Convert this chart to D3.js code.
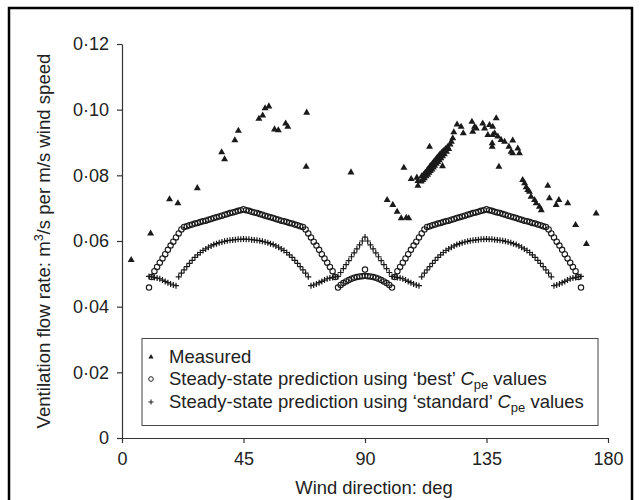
<!DOCTYPE html>
<html>
<head>
<meta charset="utf-8">
<script src="https://cdn.jsdelivr.net/npm/d3@7"></script>
<style>
body { margin: 0; background: #fff; }
text { font-family: "Liberation Sans", Arial, sans-serif; fill: #222; white-space: pre; }
.axis path, .axis line { stroke: #333; stroke-width: 1.2; }
.axis text { font-size: 18px; fill: #222; }
</style>
</head>
<body>
<svg id="chart"></svg>
<script>
// wind directions of the two predicted series, one per degree
const angles = d3.range(10, 171);

const bestValues = [
  0.0458, 0.0490, 0.0508, 0.0521, 0.0534, 0.0547, 0.0560, 0.0573, 0.0586, 0.0598, 0.0611,
  0.0623, 0.0635, 0.0643, 0.0645, 0.0648, 0.0650, 0.0653, 0.0655, 0.0658, 0.0660,
  0.0662, 0.0665, 0.0667, 0.0670, 0.0672, 0.0675, 0.0677, 0.0680, 0.0682, 0.0685,
  0.0687, 0.0689, 0.0692, 0.0694, 0.0697, 0.0694, 0.0692, 0.0689, 0.0687, 0.0685,
  0.0682, 0.0680, 0.0677, 0.0675, 0.0672, 0.0670, 0.0667, 0.0665, 0.0662, 0.0660,
  0.0658, 0.0655, 0.0653, 0.0650, 0.0648, 0.0645, 0.0643, 0.0635, 0.0623, 0.0611,
  0.0598, 0.0586, 0.0573, 0.0560, 0.0547, 0.0534, 0.0521, 0.0508, 0.0490, 0.0458,
  0.0466, 0.0472, 0.0477, 0.0481, 0.0485, 0.0488, 0.0490, 0.0492, 0.0493, 0.0494,
  0.0493, 0.0492, 0.0490, 0.0488, 0.0485, 0.0481, 0.0477, 0.0472, 0.0466, 0.0458,
  0.0490, 0.0508, 0.0521, 0.0534, 0.0547, 0.0560, 0.0573, 0.0586, 0.0598, 0.0611,
  0.0623, 0.0635, 0.0643, 0.0645, 0.0648, 0.0650, 0.0653, 0.0655, 0.0658, 0.0660,
  0.0662, 0.0665, 0.0667, 0.0670, 0.0672, 0.0675, 0.0677, 0.0680, 0.0682, 0.0685,
  0.0687, 0.0689, 0.0692, 0.0694, 0.0697, 0.0694, 0.0692, 0.0689, 0.0687, 0.0685,
  0.0682, 0.0680, 0.0677, 0.0675, 0.0672, 0.0670, 0.0667, 0.0665, 0.0662, 0.0660,
  0.0658, 0.0655, 0.0653, 0.0650, 0.0648, 0.0645, 0.0643, 0.0635, 0.0623, 0.0611,
  0.0598, 0.0586, 0.0573, 0.0560, 0.0547, 0.0534, 0.0521, 0.0508, 0.0490, 0.0458
];
// the lone 'best' circle sitting above the middle arc
const bestExtra = [[90, 0.0513]];

const standardValues = [
  0.0492, 0.0491, 0.0489, 0.0487, 0.0485, 0.0481, 0.0477, 0.0473, 0.0469, 0.0466, 0.0464,
  0.0491, 0.0502, 0.0512, 0.0522, 0.0532, 0.0541, 0.0550, 0.0558, 0.0565, 0.0571,
  0.0576, 0.0581, 0.0585, 0.0589, 0.0592, 0.0595, 0.0597, 0.0599, 0.0601, 0.0602,
  0.0603, 0.0604, 0.0605, 0.0605, 0.0606, 0.0605, 0.0605, 0.0604, 0.0603, 0.0602,
  0.0601, 0.0599, 0.0597, 0.0595, 0.0592, 0.0589, 0.0585, 0.0581, 0.0576, 0.0571,
  0.0565, 0.0558, 0.0550, 0.0541, 0.0532, 0.0522, 0.0512, 0.0502, 0.0491, 0.0464,
  0.0466, 0.0469, 0.0473, 0.0477, 0.0481, 0.0485, 0.0487, 0.0489, 0.0491, 0.0492,
  0.0504, 0.0516, 0.0528, 0.0540, 0.0552, 0.0564, 0.0576, 0.0588, 0.0600, 0.0612,
  0.0600, 0.0588, 0.0576, 0.0564, 0.0552, 0.0540, 0.0528, 0.0516, 0.0504, 0.0492,
  0.0491, 0.0489, 0.0487, 0.0485, 0.0481, 0.0477, 0.0473, 0.0469, 0.0466, 0.0464,
  0.0491, 0.0502, 0.0512, 0.0522, 0.0532, 0.0541, 0.0550, 0.0558, 0.0565, 0.0571,
  0.0576, 0.0581, 0.0585, 0.0589, 0.0592, 0.0595, 0.0597, 0.0599, 0.0601, 0.0602,
  0.0603, 0.0604, 0.0605, 0.0605, 0.0606, 0.0605, 0.0605, 0.0604, 0.0603, 0.0602,
  0.0601, 0.0599, 0.0597, 0.0595, 0.0592, 0.0589, 0.0585, 0.0581, 0.0576, 0.0571,
  0.0565, 0.0558, 0.0550, 0.0541, 0.0532, 0.0522, 0.0512, 0.0502, 0.0491, 0.0464,
  0.0466, 0.0469, 0.0473, 0.0477, 0.0481, 0.0485, 0.0487, 0.0489, 0.0491, 0.0492
];

// measured [wind direction, flow rate]
const measured = [
  [3.4, 0.0542], [10.6, 0.0623], [17.6, 0.0727], [20.7, 0.0715], [27.9, 0.0761],
  [36.9, 0.0870], [38.0, 0.0849], [41.8, 0.0907], [43.1, 0.0936], [50.7, 0.0972],
  [52.1, 0.0982], [53.0, 0.1004], [54.4, 0.1010], [56.5, 0.0940], [57.9, 0.0937],
  [60.6, 0.0958], [61.4, 0.0948], [68.4, 0.0991], [68.2, 0.0826], [84.8, 0.0809],
  [98.2, 0.0725], [100.3, 0.0710], [101.9, 0.0689], [103.4, 0.0669], [105.3, 0.0671],
  [106.2, 0.0669], [104.4, 0.0823], [107.1, 0.0789], [109.2, 0.0793], [109.6, 0.0783],
  [109.6, 0.0768], [113.9, 0.0887], [118.7, 0.0828],
  [110.8, 0.0781], [111.0, 0.0797], [111.4, 0.0786], [111.7, 0.0802], [112.0, 0.0791],
  [112.3, 0.0808], [112.6, 0.0797], [112.9, 0.0813], [113.2, 0.0802], [113.4, 0.0819],
  [113.7, 0.0808], [114.0, 0.0826], [114.2, 0.0813], [114.5, 0.0831], [114.8, 0.0818],
  [115.0, 0.0836], [115.3, 0.0824], [115.6, 0.0842], [115.8, 0.0829], [116.1, 0.0847],
  [116.4, 0.0835], [116.6, 0.0852], [116.9, 0.0841], [117.2, 0.0858], [117.5, 0.0846],
  [117.8, 0.0864], [118.1, 0.0852], [118.4, 0.0869], [118.7, 0.0858], [119.0, 0.0874],
  [119.4, 0.0864], [119.8, 0.0880], [120.2, 0.0872], [120.6, 0.0886], [121.0, 0.0880],
  [121.5, 0.0894], [122.0, 0.0902], [122.5, 0.0913], [122.9, 0.0931], [115.9, 0.0838],
  [117.1, 0.0850],
  [124.1, 0.0955], [125.6, 0.0948], [126.4, 0.0928], [129.6, 0.0963], [129.9, 0.0933],
  [130.6, 0.0948], [131.2, 0.0943], [133.6, 0.0958], [134.3, 0.0943], [136.1, 0.0953],
  [137.3, 0.0948], [135.5, 0.0923], [137.3, 0.0923], [138.0, 0.0928], [139.2, 0.0918],
  [140.4, 0.0908], [141.7, 0.0902], [137.1, 0.0898], [137.1, 0.0887], [138.6, 0.0974],
  [144.7, 0.0906], [143.3, 0.0887], [144.1, 0.0872], [144.7, 0.0867], [146.6, 0.0882],
  [147.2, 0.0867], [139.6, 0.0826],
  [148.4, 0.0786], [149.1, 0.0776], [149.7, 0.0764], [150.3, 0.0755], [150.9, 0.0750],
  [151.5, 0.0735], [152.8, 0.0725], [153.4, 0.0715], [154.6, 0.0704], [155.3, 0.0694],
  [157.7, 0.0768], [158.3, 0.0730], [160.8, 0.0710], [161.8, 0.0725], [165.1, 0.0715],
  [168.0, 0.0649], [175.6, 0.0684], [172.0, 0.0591]
];

const xTicks = [0, 45, 90, 135, 180];
const yTicks = [0, 0.02, 0.04, 0.06, 0.08, 0.10, 0.12];

const width = 641, height = 500;

const svg = d3.select("#chart")
  .attr("width", width)
  .attr("height", height);

// outer frame (bottom edge runs off the picture)
svg.append("rect")
  .attr("x", 9).attr("y", 8)
  .attr("width", 623).attr("height", 530)
  .attr("fill", "none")
  .attr("stroke", "#000")
  .attr("stroke-width", 2.5);

const x = d3.scaleLinear().domain([0, 180]).range([122, 608]);
const y = d3.scaleLinear().domain([0, 0.12]).range([438, 44]);

const fmtY = d => d === 0 ? "0" : d3.format(".2f")(d).replace(".", "\u00b7");

svg.append("g")
  .attr("class", "axis")
  .attr("transform", "translate(0," + y(0) + ")")
  .call(d3.axisBottom(x).tickValues(xTicks).tickSize(5).tickSizeOuter(0).tickPadding(9));

svg.append("g")
  .attr("class", "axis")
  .attr("transform", "translate(" + x(0) + ",0)")
  .call(d3.axisLeft(y).tickValues(yTicks).tickFormat(fmtY).tickSize(5).tickSizeOuter(0).tickPadding(8));

// axis titles
svg.append("text")
  .attr("x", 374)
  .attr("y", 494)
  .attr("text-anchor", "middle")
  .attr("font-size", 18.4)
  .text("Wind direction: deg");

const yTitle = svg.append("text")
  .attr("transform", "translate(50,241) rotate(-90)")
  .attr("text-anchor", "middle")
  .attr("font-size", 18.6);
yTitle.append("tspan").text("Ventilation flow rate: m");
yTitle.append("tspan").attr("font-size", 12.5).attr("dy", -7).text("3");
yTitle.append("tspan").attr("dy", 7).text("/s per m/s wind speed");

// marker shapes
const triangle = d3.symbol(d3.symbolTriangle, 21);
const triangleSmall = d3.symbol(d3.symbolTriangle, 12);
const plusPath = s => "M" + (-s) + ",0H" + s + "M0," + (-s) + "V" + s;

const standardPts = angles.map((a, i) => [a, standardValues[i]]);
const bestPts = angles.map((a, i) => [a, bestValues[i]]).concat(bestExtra);

svg.append("g").selectAll("path")
  .data(standardPts)
  .enter().append("path")
  .attr("transform", d => "translate(" + x(d[0]) + "," + y(d[1]) + ")")
  .attr("d", plusPath(3))
  .attr("stroke", "#1a1a1a")
  .attr("stroke-width", 1.2)
  .attr("fill", "none");

svg.append("g").selectAll("circle")
  .data(bestPts)
  .enter().append("circle")
  .attr("cx", d => x(d[0]))
  .attr("cy", d => y(d[1]))
  .attr("r", 2.7)
  .attr("fill", "none")
  .attr("stroke", "#1a1a1a")
  .attr("stroke-width", 1.1);

svg.append("g").selectAll("path")
  .data(measured)
  .enter().append("path")
  .attr("transform", d => "translate(" + x(d[0]) + "," + y(d[1]) + ")")
  .attr("d", triangle)
  .attr("fill", "#1a1a1a");

// legend
const legend = svg.append("g");
legend.append("rect")
  .attr("x", 142).attr("y", 338.5)
  .attr("width", 456).attr("height", 87)
  .attr("fill", "#fff")
  .attr("stroke", "#444")
  .attr("stroke-width", 1);

const legendText = (yPos, label) => {
  const t = legend.append("text")
    .attr("x", 169).attr("y", yPos + 6.5)
    .attr("font-size", 18.5);
  t.append("tspan").text(label);
  return t;
};

legend.append("path")
  .attr("transform", "translate(151,357)")
  .attr("d", triangleSmall)
  .attr("fill", "#1a1a1a");
legendText(356.5, "Measured");

legend.append("circle")
  .attr("cx", 151).attr("cy", 379).attr("r", 2.3)
  .attr("fill", "none").attr("stroke", "#222").attr("stroke-width", 1);
const t2 = legendText(378.5, "Steady-state prediction using \u2018best\u2019 ");
t2.append("tspan").attr("font-style", "italic").text("C");
t2.append("tspan").attr("font-size", 13).attr("dy", 3.5).text("pe");
t2.append("tspan").attr("dy", -3.5).text(" values");

legend.append("path")
  .attr("transform", "translate(151,402)")
  .attr("d", plusPath(2.6))
  .attr("stroke", "#222").attr("stroke-width", 1.1);
const t3 = legendText(401.5, "Steady-state prediction using \u2018standard\u2019 ");
t3.append("tspan").attr("font-style", "italic").text("C");
t3.append("tspan").attr("font-size", 13).attr("dy", 3.5).text("pe");
t3.append("tspan").attr("dy", -3.5).text(" values");
</script>
</body>
</html>
